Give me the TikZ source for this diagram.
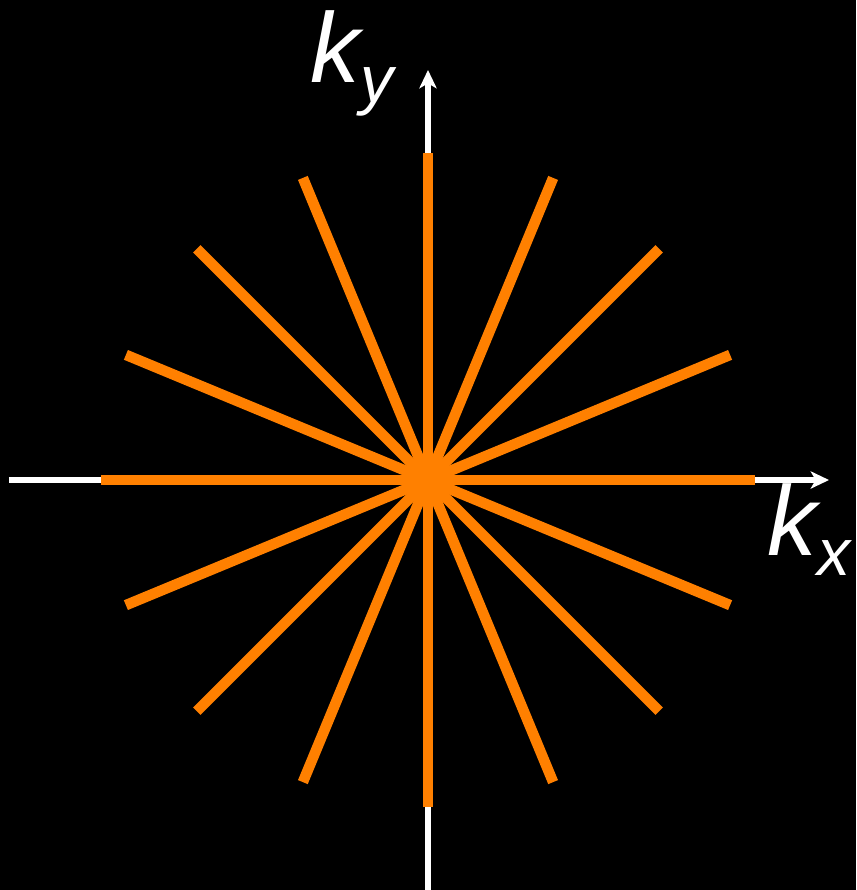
\documentclass[tikz,border=0pt]{standalone}
\usepackage{fontspec}
\setmainfont{Liberation Sans}
\usepackage{xcolor}
\usetikzlibrary{arrows.meta, positioning}

\definecolor{spokeorange}{RGB}{255,128,0}
\newcommand{\kvec}[1]{{\fontsize{28.2}{28.2}\selectfont\itshape k\raisebox{-0.21em}{\fontsize{18.8}{18.8}\selectfont #1}}}

\begin{document}
\begin{tikzpicture}[x=0.01cm, y=-0.01cm,
        axis/.style={draw=white, line width=1.5pt, -{Stealth[length=5.2pt, width=4.9pt, inset=1.4pt]}},
        spoke/.style={draw=spokeorange, line width=3pt},
        label/.style={text=white, inner sep=0pt}]
        \fill[black] (0,0) rectangle (856,890);
        \useasboundingbox (0,0) rectangle (856,890);

        \coordinate (o)  at (428,480);
        \coordinate (xl) at (9,480);
        \coordinate (xr) at (829,480);
        \coordinate (yb) at (428,891);
        \coordinate (yt) at (428,70);

        % axes
        \path[axis] (xl) -- (xr);
        \path[axis] (yb) -- (yt);

        % radial spokes
        \foreach \a in {0,22.5,...,157.5}
            \path[spoke] ([shift={(\a:327)}]o) -- ([shift={(\a+180:327)}]o);
        \fill[spokeorange] (o) circle (17);

        \node[label, anchor=base west] (ky) at (310,82)  {\kvec{y}};
        \node[label, anchor=base west] (kx) at (767,555) {\kvec{x}};
\end{tikzpicture}
\end{document}
